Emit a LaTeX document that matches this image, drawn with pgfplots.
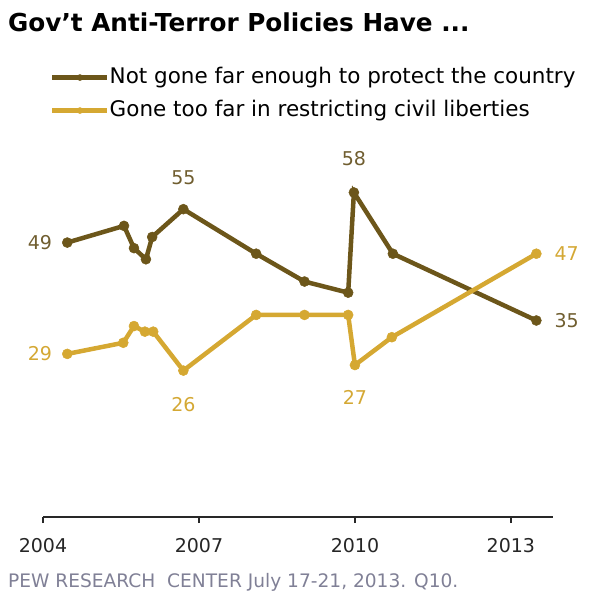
\documentclass[border=0pt]{standalone}
\usepackage{pgfplots}
\pgfplotsset{compat=1.18}
\usepackage{fontspec}
\setmainfont{DejaVu Sans}
\definecolor{darkc}{RGB}{108,86,26}
\definecolor{goldc}{RGB}{213,168,50}
\definecolor{darklab}{RGB}{112,94,48}
\definecolor{goldlab}{RGB}{212,168,52}
\definecolor{footc}{RGB}{128,128,150}
\definecolor{axisc}{RGB}{40,40,40}
\begin{document}
\begin{tikzpicture}
\useasboundingbox (0,0) rectangle (592pt,-605pt);
\node[anchor=base west, inner sep=0pt, font=\fontsize{24.7}{28}\selectfont\bfseries] at (8pt,-31pt) {Gov’t Anti-Terror Policies Have ...};
\node[anchor=base west, inner sep=0pt, text=footc, font=\fontsize{18.6}{22}\selectfont] at (8pt,-587pt) {PEW RESEARCH\ \ CENTER July 17-21, 2013. Q10.};
\begin{axis}[
  at={(43pt,-517pt)}, anchor=south west,
  scale only axis, width=510pt, height=334pt,
  xmin=2004, xmax=2013.81, ymin=-0.3, ymax=59.7,
  axis x line=bottom, axis y line=none,
  x axis line style={-, line width=1.5pt, color=axisc},
  xtick={2004,2007,2010,2013},
  xtick style={line width=1.5pt, color=axisc},
  tick align=outside, major tick length=6pt,
  x tick label style={/pgf/number format/1000 sep={}, /pgf/number format/assume math mode=true, font=\fontsize{19}{22}\selectfont, text=black!85, yshift=-12pt},
  clip=false,
  legend style={at={(axis description cs:0.0137,1.2664)}, anchor=west, draw=none, fill=none,
    font=\fontsize{21.5}{24}\selectfont, row sep=12pt, inner sep=0pt,
    nodes={inner sep=0pt, text height=16pt, text depth=5pt}, cells={anchor=west}},
  legend cell align=left,
  legend image code/.code={\draw[#1, mark repeat=2, mark phase=2, mark size=3pt] plot coordinates {(0pt,0pt) (27.5pt,0pt) (55pt,0pt)};},
]
\addplot[color=darkc, line width=4.5pt, mark=*, mark size=5pt, mark options={line width=0.5pt, fill=darkc}] coordinates {
(2004.467,49) (2005.558,52) (2005.75,48) (2005.98,46) (2006.10,50) (2006.70,55)
(2008.10,47) (2009.03,42) (2009.87,40) (2009.98,58) (2010.73,47) (2013.49,35)};
\addlegendentry{Not gone far enough to protect the country}
\addplot[color=goldc, line width=4.5pt, mark=*, mark size=5pt, mark options={line width=0.5pt, fill=goldc}] coordinates {
(2004.467,29) (2005.544,31) (2005.75,34) (2005.96,33) (2006.12,33) (2006.70,26)
(2008.10,36) (2009.03,36) (2009.87,36) (2010.0,27) (2010.71,32) (2013.49,47)};
\addlegendentry{Gone too far in restricting civil liberties}
\begin{scope}[every node/.style={font=\fontsize{19}{22}\selectfont, inner sep=0pt}]
\node[anchor=east, text=darklab, xshift=-15pt] at (axis cs:2004.467,49) {49};
\node[anchor=east, text=goldlab, xshift=-15pt] at (axis cs:2004.467,29) {29};
\node[text=darklab, yshift=31pt] at (axis cs:2006.70,55) {55};
\node[text=goldlab, yshift=-34pt] at (axis cs:2006.70,26) {26};
\node[text=darklab, yshift=34pt] at (axis cs:2009.98,58) {58};
\node[text=goldlab, yshift=-32pt] at (axis cs:2010.0,27) {27};
\node[anchor=west, text=goldlab, xshift=18pt] at (axis cs:2013.49,47) {47};
\node[anchor=west, text=darklab, xshift=18pt] at (axis cs:2013.49,35) {35};
\end{scope}
\end{axis}
\end{tikzpicture}
\end{document}
